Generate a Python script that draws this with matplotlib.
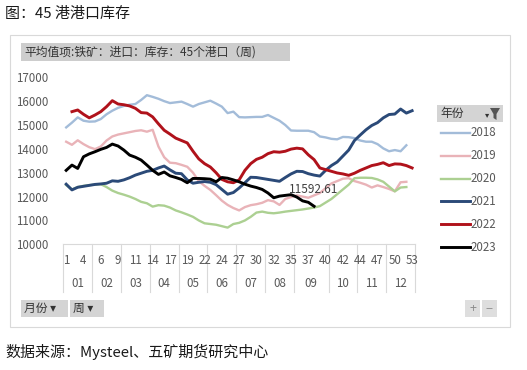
import numpy as np
import matplotlib
matplotlib.use("Agg")
import matplotlib.pyplot as plt
from matplotlib.patches import Rectangle, Polygon

plt.rcParams['font.family'] = ['Noto Sans CJK SC', 'DejaVu Sans']

# 透视表的分类轴：月份 -> 周（同一周可能跨两个月）
month_labels = ['01', '02', '03', '04', '05', '06', '07', '08', '09', '10', '11', '12']
month_weeks = [(1, 5), (5, 9), (9, 13), (14, 18), (18, 22), (22, 26),
               (27, 31), (31, 35), (35, 40), (40, 44), (44, 48), (49, 53)]

years = ['2018', '2019', '2020', '2021', '2022', '2023']

s2018 = [14900, 15100, 15320, 15180, 15140, 15150, 15250, 15450, 15600, 15720,
         15800, 15850, 15880, 16050, 16250, 16180, 16100, 16000, 15920, 15950,
         15980, 15880, 15770, 15880, 15950, 16020, 15900, 15770, 15500, 15560,
         15330, 15320, 15330, 15340, 15340, 15420, 15300, 15180, 15000, 14770,
         14760, 14760, 14760, 14700, 14520, 14480, 14420, 14400, 14500, 14490,
         14450, 14350, 14300, 14300, 14200, 14020, 13900, 13950, 13900, 14150]
s2019 = [14300, 14170, 14360, 14200, 14070, 13990, 14100, 14350, 14520, 14600,
         14650, 14700, 14750, 14780, 14720, 14800, 14100, 13650, 13420, 13400,
         13330, 13250, 13000, 12650, 12450, 12280, 12060, 11830, 11650, 11520,
         11420, 11560, 11640, 11680, 11740, 11850, 11800, 11650, 11900, 11980,
         12050, 12000, 11950, 12050, 12150, 12350, 12550, 12650, 12750, 12770,
         12650, 12580, 12500, 12380, 12470, 12400, 12320, 12220, 12600, 12620]
s2020 = [12480, 12300, 12400, 12450, 12480, 12500, 12520, 12400, 12250, 12150,
         12080, 12000, 11900, 11780, 11720, 11580, 11640, 11620, 11540, 11420,
         11340, 11250, 11150, 11000, 10880, 10850, 10820, 10760, 10700, 10850,
         10900, 11000, 11150, 11330, 11370, 11320, 11300, 11330, 11370, 11400,
         11430, 11460, 11500, 11540, 11600, 11750, 11900, 12100, 12300, 12500,
         12770, 12790, 12790, 12780, 12720, 12620, 12420, 12220, 12380, 12400]
s2021 = [12520, 12280, 12390, 12430, 12470, 12510, 12530, 12560, 12660, 12640,
         12700, 12790, 12900, 12980, 13060, 13100, 13200, 13280, 13120, 12980,
         12960, 12700, 12560, 12600, 12630, 12600, 12500, 12300, 12100, 12170,
         12360, 12580, 12810, 12800, 12760, 12720, 12680, 12640, 12800, 12950,
         13060, 13050, 12960, 12900, 12860, 13100, 13300, 13450, 13700, 13950,
         14350, 14580, 14800, 14980, 15100, 15300, 15440, 15460, 15670, 15500,
         15600]
s2022 = [None, 15560, 15630, 15450, 15300, 15420, 15560, 15770, 16020, 15880,
         15850, 15800, 15700, 15520, 15500, 15340, 15050, 14780, 14620, 14450,
         14350, 14250, 13900, 13580, 13380, 13240, 13000, 12720, 12620, 12580,
         12700, 13100, 13380, 13560, 13650, 13800, 13880, 13860, 13900, 13990,
         14030, 14000, 13750, 13550, 13200, 13130, 13060, 12990, 12950, 12890,
         12980, 13100, 13200, 13300, 13350, 13420, 13300, 13370, 13360, 13300,
         13200]
s2023 = [13100, 13320, 13180, 13670, 13790, 13880, 13980, 14060, 14200, 14120,
         13950, 13740, 13650, 13530, 13320, 13100, 12930, 13030, 12870, 12800,
         12720, 12580, 12760, 12760, 12750, 12730, 12620, 12800, 12770, 12700,
         12620, 12520, 12440, 12380, 12300, 12150, 11950, 12020, 12050, 12080,
         11980, 11820, 11760, 11592.61]

series = [s2018, s2019, s2020, s2021, s2022, s2023]
colors = ['#a3bcd9', '#e9b3b8', '#acd092', '#2b4a78', '#b0121b', '#000000']
widths = [1.7, 1.7, 1.7, 2.1, 2.1, 2.1]

W, H = 527, 370


def fx(x):
    return x / W


def fy(y):
    return 1 - y / H


weeks = []
month_of = []
for m, (a, b) in enumerate(month_weeks):
    for w in range(a, b + 1):
        weeks.append(w)
        month_of.append(m)
n = len(weeks)

fig = plt.figure(figsize=(W / 100, H / 100), dpi=100)

# 图表外框
fig.patches.append(Rectangle((fx(10), fy(327)), fx(500), 292 / H, transform=fig.transFigure,
                             facecolor='white', edgecolor='#d9d9d9', lw=0.8, zorder=-5))

fig.text(fx(5), fy(14), '图：45 港港口库存', fontsize=10.8, va='center', ha='left', color='#1a1a1a')
fig.text(fx(5), fy(352), '数据来源：Mysteel、五矿期货研究中心', fontsize=10.8, va='center', ha='left',
         color='#1a1a1a')

# 字段按钮
fig.patches.append(Rectangle((fx(21), fy(61)), fx(269), 18 / H, transform=fig.transFigure,
                             facecolor='#cdcdcd', edgecolor='none'))
fig.text(fx(24), fy(52), '平均值项:铁矿：进口：库存：45个港口（周)', fontsize=8.5, va='center', ha='left',
         color='#333333')

ax = fig.add_axes([fx(63.3), fy(244.3), (415 - 63.3) / W, (244.3 - 77.3) / H])
ax.patch.set_alpha(0)
for i, (vals, c, lw) in enumerate(zip(series, colors, widths)):
    y = np.array([np.nan if v is None else v for v in vals], dtype=float)
    ax.plot(np.arange(len(y)), y, color=c, lw=lw, solid_joinstyle='round', zorder=2 + i)

last = len(s2023) - 1
ax.annotate(f'{s2023[-1]:.2f}', (last, s2023[-1]), xytext=(0, 12), textcoords='offset points',
            ha='center', va='center', fontsize=8.5, color='#404040', zorder=10)

ax.set_xlim(-0.5, n - 0.5)
ax.set_ylim(10000, 17000)
ax.set_yticks(range(10000, 17001, 1000))
ax.tick_params(axis='y', length=0, pad=11, labelsize=8.3, labelcolor='#595959')
ax.set_xticks([])
for side in ['left', 'right', 'top']:
    ax.spines[side].set_visible(False)
ax.spines['bottom'].set_color('#d9d9d9')
ax.spines['bottom'].set_linewidth(0.8)

xt = ax.get_xaxis_transform()
bounds = [-0.5]
for m in range(len(month_labels)):
    idx = [i for i in range(n) if month_of[i] == m]
    bounds.append(idx[-1] + 0.5)
    ax.text(np.mean(idx), -0.232, month_labels[m], transform=xt, ha='center', va='center',
            fontsize=8.3, color='#595959')
for b in bounds:
    ax.plot([b, b], [0, -0.285], transform=xt, color='#d9d9d9', lw=0.8, clip_on=False)
for i in range(0, n, 3):
    ax.text(i, -0.098, str(weeks[i]), transform=xt, ha='center', va='center',
            fontsize=8.3, color='#595959')

# 图例
fig.patches.append(Rectangle((fx(437), fy(122)), 66 / W, 17 / H, transform=fig.transFigure,
                             facecolor='#d4d4d4', edgecolor='none'))
fig.text(fx(440), fy(113.5), '年份', fontsize=8.5, va='center', ha='left', color='#333333')
fig.text(fx(487), fy(114.5), '▾', fontsize=6, va='center', ha='center', color='#333333')
fig.patches.append(Polygon([(fx(490), fy(108)), (fx(500), fy(108)), (fx(496.5), fy(114)),
                            (fx(496.5), fy(120)), (fx(493.5), fy(118)), (fx(493.5), fy(114))],
                           closed=True, transform=fig.transFigure, facecolor='#555555', edgecolor='none'))
for i, (yr, c, lw) in enumerate(zip(years, colors, widths)):
    yy = 132.7 + i * 22.9
    fig.add_artist(plt.Line2D([fx(441), fx(470)], [fy(yy), fy(yy)], color=c, lw=lw))
    fig.text(fx(471), fy(yy), yr, fontsize=8.3, va='center', ha='left', color='#595959')

# 底部按钮
for x0, x1, label in [(21, 68, '月份 ▾'), (70, 104, '周 ▾')]:
    fig.patches.append(Rectangle((fx(x0), fy(317)), (x1 - x0) / W, 17 / H, transform=fig.transFigure,
                                 facecolor='#d4d4d4', edgecolor='none'))
    fig.text(fx(x0 + 3), fy(308.5), label, fontsize=8.5, va='center', ha='left', color='#333333')
for x0, label in [(465, '+'), (482, '−')]:
    fig.patches.append(Rectangle((fx(x0), fy(317)), 15 / W, 17 / H, transform=fig.transFigure,
                                 facecolor='#dedede', edgecolor='none'))
    fig.text(fx(x0 + 7.5), fy(308.5), label, fontsize=9, va='center', ha='center', color='#8c8c8c')

fig.savefig('out.png', dpi=100)
